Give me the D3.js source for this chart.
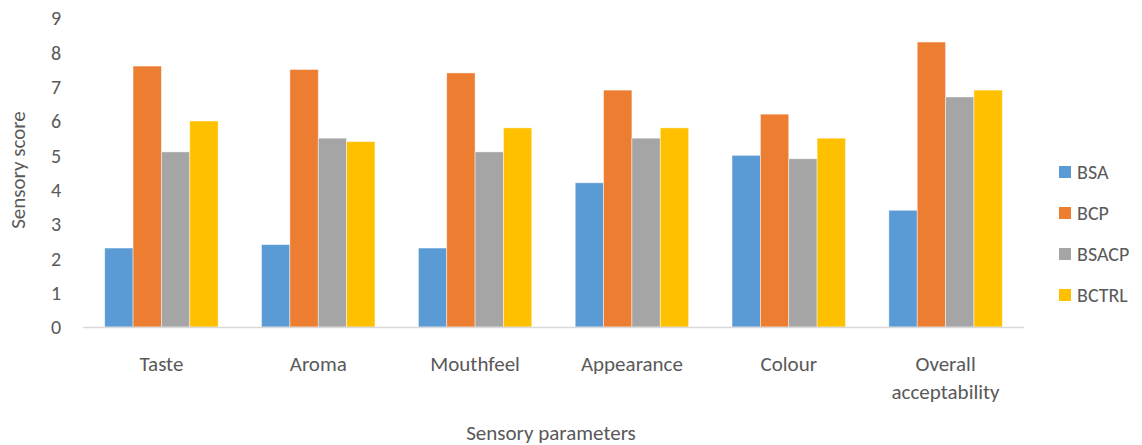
<!DOCTYPE html>
<html>
<head>
<meta charset="utf-8">
<script src="https://cdn.jsdelivr.net/npm/d3@7"></script>
<style>
  html, body { margin: 0; padding: 0; background: #fff; }
  svg text { font-family: Carlito, Calibri, "Open Sans", "Noto Sans", sans-serif; fill: #595959; }
</style>
</head>
<body>
<svg id="chart" width="1142" height="445"></svg>
<script>
// Sensory evaluation scores per parameter and formulation
const categories = ["Taste", "Aroma", "Mouthfeel", "Appearance", "Colour", "Overall acceptability"];
const seriesNames = ["BSA", "BCP", "BSACP", "BCTRL"];
const BSA   = [2.3, 2.4, 2.3, 4.2, 5.0, 3.4];
const BCP   = [7.6, 7.5, 7.4, 6.9, 6.2, 8.3];
const BSACP = [5.1, 5.5, 5.1, 5.5, 4.9, 6.7];
const BCTRL = [6.0, 5.4, 5.8, 5.8, 5.5, 6.9];
const yTicks = [0, 1, 2, 3, 4, 5, 6, 7, 8, 9];
const colors = ["#5B9BD5", "#ED7D31", "#A5A5A5", "#FFC000"];

const values = [BSA, BCP, BSACP, BCTRL];
const rows = categories.map((c, i) => ({
  category: c,
  vals: seriesNames.map((s, j) => ({ series: s, value: values[j][i], color: colors[j] }))
}));

const svg = d3.select("#chart");
const margin = { left: 83, right: 118, top: 18, bottom: 118 };
const width = 1142 - margin.left - margin.right;
const height = 445 - margin.top - margin.bottom;

const g = svg.append("g").attr("transform", `translate(${margin.left},${margin.top})`);

const x0 = d3.scaleBand().domain(categories).range([0, width]).padding(0);
const groupInner = x0.bandwidth() * (4 / 5.53);
const x1 = d3.scaleBand().domain(seriesNames).range([0, groupInner]).padding(0);
const y = d3.scaleLinear().domain([0, 9]).range([height, 0]);

// y tick labels (no axis line)
const yAxis = g.append("g").call(d3.axisLeft(y).tickValues(yTicks).tickSize(0).tickPadding(0));
yAxis.select(".domain").remove();
yAxis.selectAll("text").attr("x", -27).attr("dy", "0.34em").style("font-size", "20px").attr("text-anchor", "middle");

// bars
const groups = g.selectAll(".grp").data(rows).join("g")
  .attr("transform", d => `translate(${x0(d.category) + (x0.bandwidth() - groupInner) / 2},0)`);
groups.selectAll("rect").data(d => d.vals).join("rect")
  .attr("x", d => x1(d.series))
  .attr("width", x1.bandwidth())
  .attr("y", d => y(d.value))
  .attr("height", d => y(0) - y(d.value))
  .attr("fill", d => d.color)
  .attr("stroke", "#ffffff")
  .attr("stroke-opacity", 0.6)
  .attr("stroke-width", 0.75);

// baseline
g.append("line").attr("x1", 0).attr("x2", width).attr("y1", y(0) + 0.5).attr("y2", y(0) + 0.5)
  .attr("stroke", "#d9d9d9").attr("stroke-width", 1.5);

// category labels
const xAxis = g.append("g").attr("transform", `translate(0,${height})`)
  .call(d3.axisBottom(x0).tickSize(0).tickFormat(() => ""));
xAxis.select(".domain").remove();
xAxis.selectAll(".tick").each(function(d) {
  const words = d === "Overall acceptability" ? ["Overall", "acceptability"] : [d];
  const t = d3.select(this).append("text").attr("text-anchor", "middle").style("font-size", "21px");
  words.forEach((w, i) => t.append("tspan").attr("x", 0).attr("y", 44 + i * 28).text(w));
});

// axis titles
svg.append("text").attr("x", 551).attr("y", 440)
  .attr("text-anchor", "middle").style("font-size", "21px").text("Sensory parameters");
svg.append("text").attr("transform", `translate(25,${170}) rotate(-90)`)
  .attr("text-anchor", "middle").style("font-size", "21px").text("Sensory score");

// legend
const legend = svg.append("g").attr("transform", "translate(1059,166)");
seriesNames.forEach((s, i) => {
  const row = legend.append("g").attr("transform", `translate(0,${i * 41})`);
  row.append("rect").attr("width", 12).attr("height", 12).attr("fill", colors[i]);
  row.append("text").attr("x", 18).attr("y", 13).style("font-size", "20px").text(s);
});
</script>
</body>
</html>
